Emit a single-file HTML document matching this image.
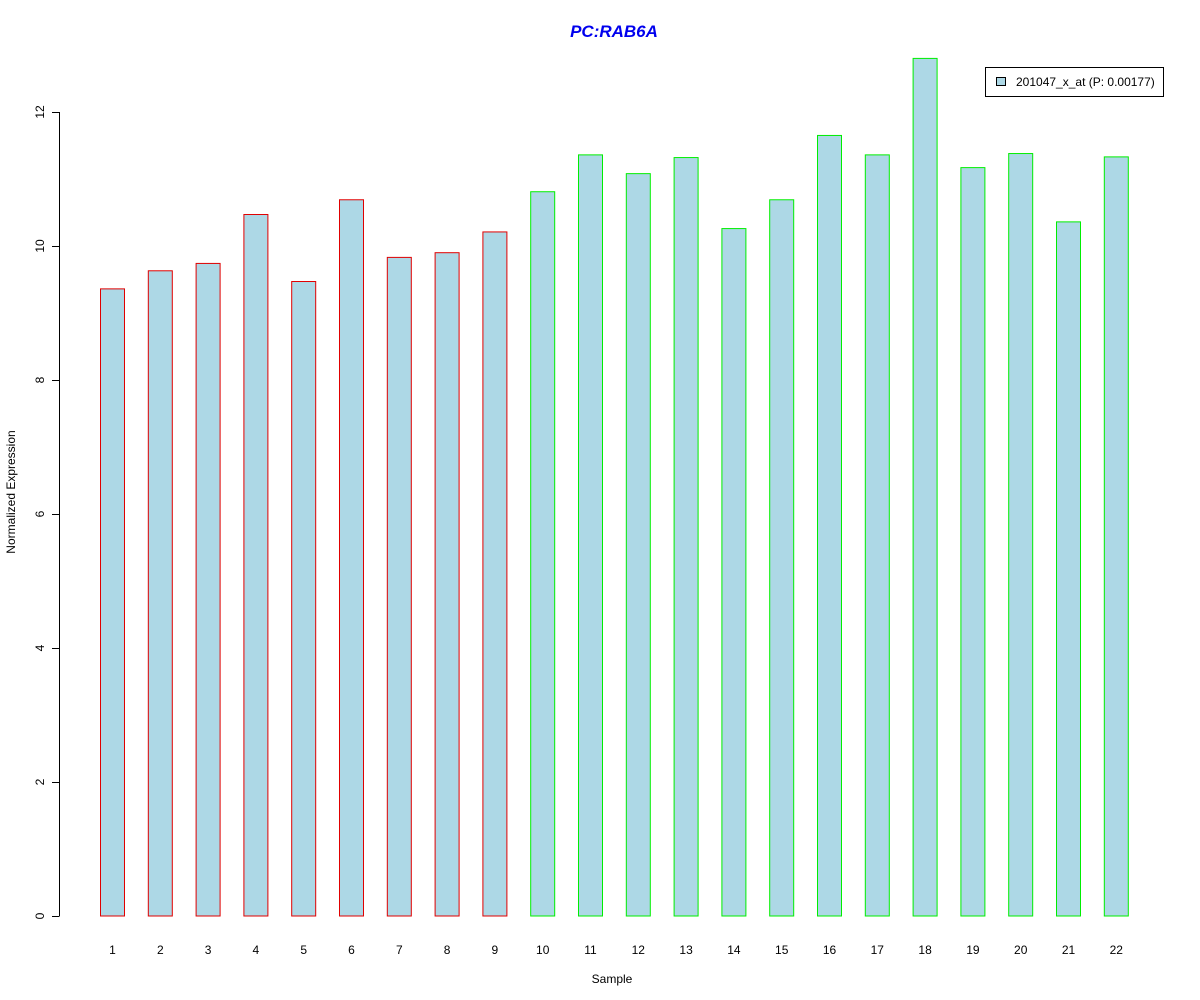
<!DOCTYPE html>
<html><head><meta charset="utf-8"><style>
body{margin:0;background:#fff;}
svg{display:block;font-family:"Liberation Sans",Arial,sans-serif;}
</style></head><body>
<svg id="chart" width="1200" height="1000" viewBox="0 0 1200 1000">
<text x="614" y="37" text-anchor="middle" font-size="17" font-weight="bold" font-style="italic" fill="#0000ee">PC:RAB6A</text>
<text x="612" y="983" text-anchor="middle" font-size="12">Sample</text>
<text transform="translate(15,492) rotate(-90)" text-anchor="middle" font-size="12">Normalized Expression</text>
<g id="yaxis"></g>
<g id="bars"></g>
<g id="xlabels"></g>
<g>
<rect x="985.5" y="67.5" width="178" height="29" fill="#fff" stroke="#000"/>
<rect x="996.5" y="77.5" width="9" height="8" fill="#add8e6" stroke="#000"/>
<text x="1016" y="86" font-size="12">201047_x_at (P: 0.00177)</text>
</g>
</svg>
<script>
const categories=["1","2","3","4","5","6","7","8","9","10","11","12","13","14","15","16","17","18","19","20","21","22"];
const values=[9.36,9.63,9.74,10.47,9.47,10.69,9.83,9.90,10.21,10.81,11.36,11.08,11.32,10.26,10.69,11.65,11.36,12.80,11.17,11.38,10.36,11.33];
const groups=["red","red","red","red","red","red","red","red","red","green","green","green","green","green","green","green","green","green","green","green","green","green"];
const yTicks=[0,2,4,6,8,10,12];
const NS="http://www.w3.org/2000/svg";
const y=v=>916-v*67;
const x=i=>112.5+i*47.8;
const yaxis=document.getElementById('yaxis');
const al=document.createElementNS(NS,'line');


al.setAttribute('x1',59.5);al.setAttribute('x2',59.5);al.setAttribute('y1',y(0));al.setAttribute('y2',y(12));al.setAttribute('stroke','#000');
yaxis.appendChild(al);
yTicks.forEach(t=>{
 const l=document.createElementNS(NS,'line');
 
 
 l.setAttribute('x1',52);l.setAttribute('x2',59.5);l.setAttribute('y1',y(t)+0.5);l.setAttribute('y2',y(t)+0.5);l.setAttribute('stroke','#000');
 yaxis.appendChild(l);
 const tx=document.createElementNS(NS,'text');
 
 
 tx.setAttribute('transform',`translate(44,${y(t)}) rotate(-90)`);
 tx.setAttribute('text-anchor','middle');tx.setAttribute('font-size','12');
 tx.textContent=t;yaxis.appendChild(tx);
});
const bars=document.getElementById('bars'),xl=document.getElementById('xlabels');
values.forEach((v,i)=>{
 const r=document.createElementNS(NS,'rect');
 
 
 r.setAttribute('x',x(i)-12);r.setAttribute('width',24);
 r.setAttribute('y',y(v));r.setAttribute('height',y(0)-y(v));
 r.setAttribute('fill','#add8e6');
 r.setAttribute('stroke',groups[i]==='red'?'#e00000':'#00ee00');
 bars.appendChild(r);
 const t=document.createElementNS(NS,'text');
 
 
 t.setAttribute('x',x(i));t.setAttribute('y',954);t.setAttribute('text-anchor','middle');t.setAttribute('font-size','12');
 t.textContent=categories[i];xl.appendChild(t);
});
</script>
</body></html>
